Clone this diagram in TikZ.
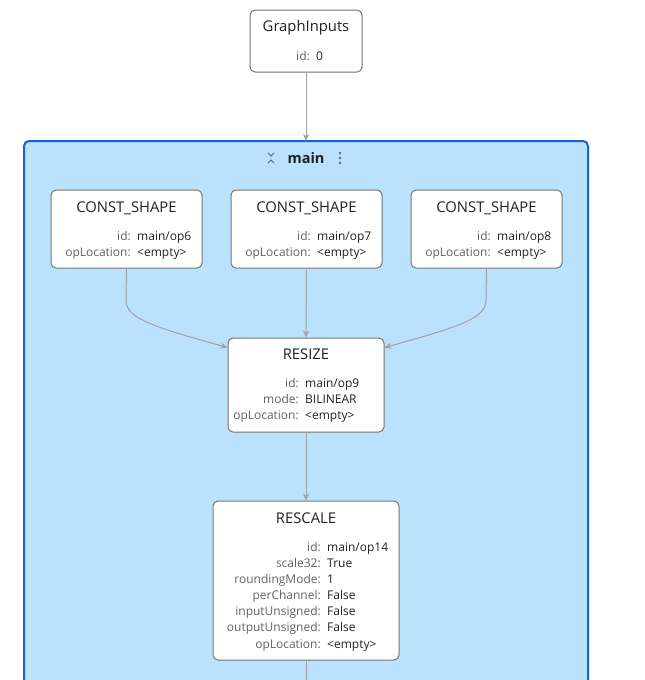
\documentclass[tikz,border=0pt]{standalone}
\usepackage{fontspec}
\setmainfont{Open Sans}
\usetikzlibrary{arrows.meta}
\definecolor{grpfill}{HTML}{BBE2FD}
\definecolor{grpline}{HTML}{1A5FD6}
\definecolor{boxline}{HTML}{747474}
\definecolor{edgec}{HTML}{A0A0A0}
\definecolor{keyc}{HTML}{5F6368}
\definecolor{valc}{HTML}{202124}
\tikzset{
  opbox/.style={draw=boxline, line width=1pt, fill=white, rounded corners=5pt, inner sep=0pt},
  titlest/.style={inner sep=0pt, anchor=base, text=valc, font=\fontsize{14.8}{17}\selectfont},
  keyst/.style={inner sep=0pt, anchor=base east, text=keyc, font=\fontsize{12}{14}\selectfont},
  valst/.style={inner sep=0pt, anchor=base west, text=valc, font=\fontsize{12}{14}\selectfont},
  edgest/.style={draw=edgec, line width=1pt, -{Stealth[length=7pt,width=6pt]}},
  grpst/.style={draw=grpline, fill=grpfill, line width=2pt, rounded corners=5pt}
}
\newcommand{\kvline}[5]{%
  \node[keyst] (#1-k) at (#2,#3) {#4:};
  \node[valst, xshift=6pt] (#1-v) at (#2,#3) {#5};
}
\begin{document}
\begin{tikzpicture}[x=1pt,y=-1pt]
\useasboundingbox (0,0) rectangle (645,680);
\clip (0,0) rectangle (645,680);
\fill[white] (0,0) rectangle (645,680);

% group
\draw[grpst] (24,141) rectangle (588,730);
\coordinate (grptop) at (306,141);
\node[inner sep=0pt, anchor=base, text=valc, font=\bfseries\fontsize{14.5}{17}\selectfont] (mainlbl) at (306,163) {main};
% collapse icon
\draw[keyc, line width=0.9pt] (268,153) -- (271,156) -- (274,153);
\draw[keyc, line width=0.9pt] (268,163) -- (271,160) -- (274,163);
\foreach \yy in {153,158,163} \fill[keyc] (340,\yy) circle (1.3);

% GraphInputs
\node[opbox, minimum width=112pt, minimum height=62pt] (gi) at (306,41) {};
\node[titlest] (gi-t) at (306,31) {GraphInputs};
\kvline{gi1}{310}{60}{id}{0}

% CONST_SHAPE boxes
\node[opbox, minimum width=151pt, minimum height=78pt] (c1) at (126.5,229) {};
\node[titlest] (c1-t) at (126.5,212) {CONST\_SHAPE};
\kvline{c1a}{131}{240}{id}{main/op6}
\kvline{c1b}{131}{256}{opLocation}{<empty>}

\node[opbox, minimum width=151pt, minimum height=78pt] (c2) at (306.5,229) {};
\node[titlest] (c2-t) at (306.5,212) {CONST\_SHAPE};
\kvline{c2a}{311}{240}{id}{main/op7}
\kvline{c2b}{311}{256}{opLocation}{<empty>}

\node[opbox, minimum width=151pt, minimum height=78pt] (c3) at (486.5,229) {};
\node[titlest] (c3-t) at (486.5,212) {CONST\_SHAPE};
\kvline{c3a}{491}{240}{id}{main/op8}
\kvline{c3b}{491}{256}{opLocation}{<empty>}

% RESIZE
\node[opbox, minimum width=156pt, minimum height=94pt] (rz) at (306,385) {};
\node[titlest] (rz-t) at (306,359) {RESIZE};
\kvline{rza}{299}{387}{id}{main/op9}
\kvline{rzb}{299}{403}{mode}{BILINEAR}
\kvline{rzc}{299}{419}{opLocation}{<empty>}

% RESCALE
\node[opbox, minimum width=186pt, minimum height=159pt] (rs) at (306,580.5) {};
\node[titlest] (rs-t) at (306,523) {RESCALE};
\kvline{rsa}{321}{551}{id}{main/op14}
\kvline{rsb}{321}{567}{scale32}{True}
\kvline{rsc}{321}{583}{roundingMode}{1}
\kvline{rsd}{321}{599}{perChannel}{False}
\kvline{rse}{321}{615}{inputUnsigned}{False}
\kvline{rsf}{321}{631}{outputUnsigned}{False}
\kvline{rsg}{321}{648}{opLocation}{<empty>}
\coordinate (out) at (306,700);

% edges
\draw[edgest] (gi.south) -- (grptop);
\draw[edgest] (c1.south) -- (126,300) .. controls (126,318) and (150,326) .. ([yshift=-10pt]rz.north west);
\draw[edgest] (c2.south) -- (rz.north);
\draw[edgest] (c3.south) -- (486,300) .. controls (486,318) and (462,326) .. ([yshift=-10pt]rz.north east);
\draw[edgest] (rz.south) -- (rs.north);
\draw[draw=edgec, line width=1pt] (rs.south) -- (out);
\end{tikzpicture}
\end{document}
